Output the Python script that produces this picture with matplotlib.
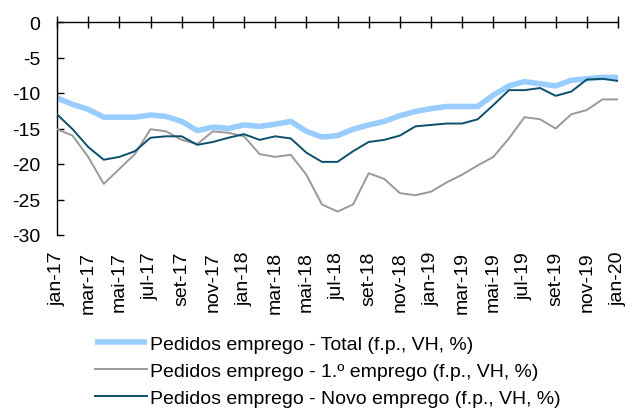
import matplotlib
matplotlib.use("Agg")
import matplotlib.pyplot as plt
import numpy as np

plt.rcParams['font.family'] = ['Liberation Sans', 'DejaVu Sans']

meses = ['jan', 'fev', 'mar', 'abr', 'mai', 'jun', 'jul', 'ago', 'set', 'out', 'nov', 'dez']
datas = [f"{meses[m % 12]}-{17 + m // 12}" for m in range(37)]

total = [-10.7, -11.6, -12.3, -13.4, -13.4, -13.4, -13.1, -13.3, -14.0, -15.3,
         -14.8, -15.0, -14.5, -14.7, -14.4, -14.0, -15.4, -16.2, -16.0, -15.1,
         -14.5, -14.0, -13.2, -12.6, -12.2, -11.9, -11.9, -11.9, -10.3, -9.0,
         -8.4, -8.7, -9.0, -8.2, -8.0, -7.8, -7.8]
primeiro = [-15.1, -16.0, -19.0, -22.8, -20.7, -18.6, -15.1, -15.4, -16.6, -17.2,
            -15.4, -15.6, -16.1, -18.6, -19.0, -18.7, -21.5, -25.7, -26.7, -25.7,
            -21.3, -22.1, -24.1, -24.4, -23.9, -22.6, -21.5, -20.2, -19.0, -16.4,
            -13.4, -13.7, -15.0, -13.0, -12.4, -10.9, -10.9]
novo = [-13.0, -15.1, -17.6, -19.4, -19.0, -18.2, -16.3, -16.1, -16.1, -17.3,
        -16.9, -16.3, -15.8, -16.6, -16.1, -16.4, -18.4, -19.7, -19.7, -18.2,
        -16.9, -16.6, -16.0, -14.7, -14.5, -14.3, -14.3, -13.7, -11.7, -9.6,
        -9.6, -9.3, -10.4, -9.8, -8.1, -8.0, -8.3]

nomes = ['Pedidos emprego - Total (f.p., VH, %)',
         'Pedidos emprego - 1.º emprego (f.p., VH, %)',
         'Pedidos emprego - Novo emprego (f.p., VH, %)']

fs = 14
fig = plt.figure(figsize=(6.32, 4.10), dpi=100)
W, H = 632, 410
ax = fig.add_axes([57 / W, 1 - 236 / H, (618 - 57) / W, (236 - 23) / H])

x = np.arange(len(datas))
ax.plot(x, total, color='#99CCFF', lw=4.0, label=nomes[0], solid_capstyle='butt', zorder=2)
ax.plot(x, primeiro, color='#999999', lw=1.4, label=nomes[1], zorder=3)
ax.plot(x, novo, color='#0B4F6C', lw=1.4, label=nomes[2], zorder=4)

ax.set_xlim(0, 36)
ax.set_ylim(-30, 0)
ax.set_yticks(np.arange(-30, 1, 5))
ax.set_yticklabels([str(v) for v in range(-30, 1, 5)])
ax.set_xticks(x[::2])
ax.set_xticklabels(datas[::2], rotation=90, ha='center', va='top')

for s in ['right', 'bottom']:
    ax.spines[s].set_visible(False)
for s in ['left', 'top']:
    ax.spines[s].set_linewidth(1.0)
    ax.spines[s].set_color('black')

ax.tick_params(axis='x', top=True, bottom=False, labeltop=False, labelbottom=True,
               direction='inout', length=9, width=1.0, labelsize=fs, pad=7)
ax.tick_params(axis='y', direction='in', length=5, width=1.0, labelsize=fs, pad=12)

fig.legend(loc='upper left', bbox_to_anchor=(95 / W, 1 - 336 / H), frameon=False,
           fontsize=fs, handlelength=2.65, handletextpad=0.17, labelspacing=0.5,
           borderpad=0, borderaxespad=0)

fig.savefig('out.png', dpi=100)
